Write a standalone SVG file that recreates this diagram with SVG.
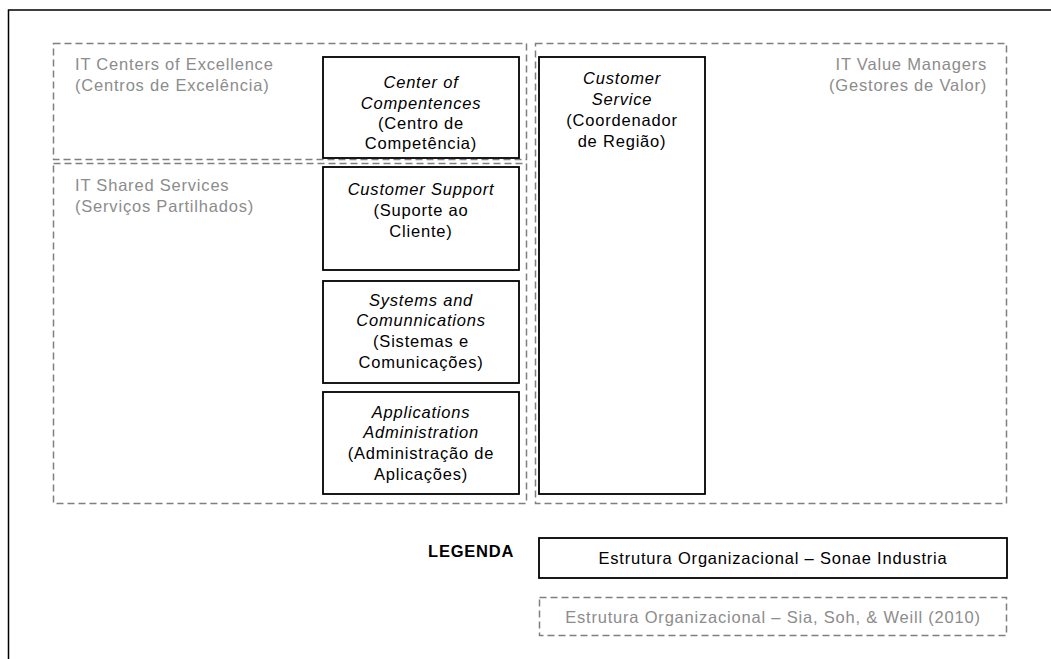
<svg xmlns="http://www.w3.org/2000/svg" width="1051" height="659" viewBox="0 0 1051 659">
<style>
.frame{fill:none;stroke:#000;stroke-width:1.5}
.dash{fill:none;stroke:#7f7f7f;stroke-width:1.5;stroke-dasharray:7 4}
.box{fill:#fff;stroke:#000;stroke-width:1.8}
text{font-family:"Liberation Sans",Arial,sans-serif;font-size:16.5px;letter-spacing:0.8px}
.g{fill:#8c8c8c}
.k{fill:#000}
.c{text-anchor:middle}
.r{text-anchor:end}
.i{font-style:italic}
.b{font-weight:bold}
</style>
<rect width="1051" height="659" fill="#fff"/>
<rect class="frame" x="8.5" y="10" width="1100" height="700"/>
<g id="coe">
<rect class="dash" x="53.5" y="43.5" width="473" height="116"/>
<text class="g" x="75" y="70">IT Centers of Excellence</text>
<text class="g" x="75" y="91">(Centros de Excelência)</text>
</g>
<g id="shared">
<rect class="dash" x="53.5" y="163.5" width="473" height="340"/>
<text class="g" x="75" y="191">IT Shared Services</text>
<text class="g" x="75" y="212">(Serviços Partilhados)</text>
</g>
<g id="value">
<rect class="dash" x="535.5" y="43.5" width="471" height="460"/>
<text class="g r" x="987" y="70">IT Value Managers</text>
<text class="g r" x="987" y="91">(Gestores de Valor)</text>
</g>
<g id="center-of-competences">
<rect class="box" x="323" y="57" width="196" height="101"/>
<text class="k c i" x="421" y="88">Center of</text>
<text class="k c i" x="421" y="109">Compentences</text>
<text class="k c" x="421" y="129">(Centro de</text>
<text class="k c" x="421" y="149">Competência)</text>
</g>
<g id="customer-support">
<rect class="box" x="323" y="167" width="196" height="103"/>
<text class="k c i" x="421" y="195">Customer Support</text>
<text class="k c" x="421" y="216">(Suporte ao</text>
<text class="k c" x="421" y="237">Cliente)</text>
</g>
<g id="systems">
<rect class="box" x="323" y="281" width="196" height="102"/>
<text class="k c i" x="421" y="306">Systems and</text>
<text class="k c i" x="421" y="326">Comunnications</text>
<text class="k c" x="421" y="347">(Sistemas e</text>
<text class="k c" x="421" y="368">Comunicações)</text>
</g>
<g id="applications">
<rect class="box" x="323" y="392" width="196" height="102"/>
<text class="k c i" x="421" y="418">Applications</text>
<text class="k c i" x="421" y="438">Administration</text>
<text class="k c" x="421" y="459">(Administração de</text>
<text class="k c" x="421" y="480">Aplicações)</text>
</g>
<g id="customer-service">
<rect class="box" x="539" y="57" width="166" height="437"/>
<text class="k c i" x="622" y="84">Customer</text>
<text class="k c i" x="622" y="105">Service</text>
<text class="k c" x="622" y="126">(Coordenador</text>
<text class="k c" x="622" y="147">de Região)</text>
</g>
<g id="legend">
<text class="k b" x="428" y="557">LEGENDA</text>
<rect class="box" x="539" y="538" width="468" height="40"/>
<text class="k c" x="773" y="564">Estrutura Organizacional – Sonae Industria</text>
<rect class="dash" x="539.5" y="597.5" width="467" height="38"/>
<text class="g c" x="773" y="623">Estrutura Organizacional – Sia, Soh, &amp; Weill (2010)</text>
</g>
<g id="connectors"/>
</svg>
